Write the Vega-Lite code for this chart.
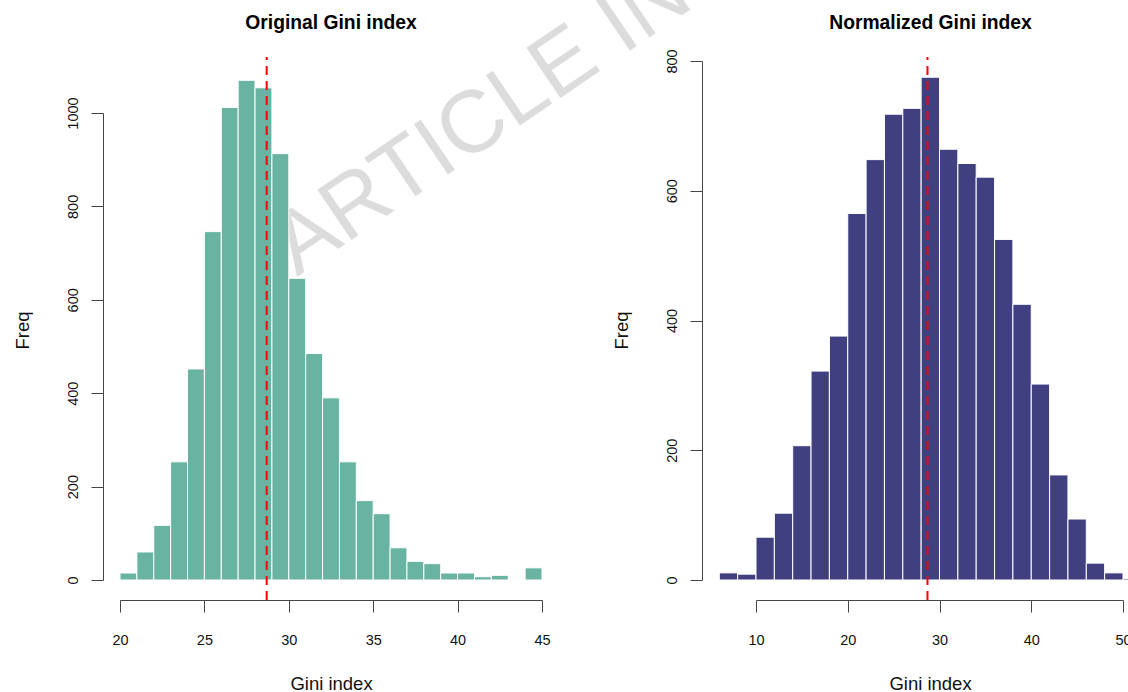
{
  "$schema": "https://vega.github.io/schema/vega-lite/v6.json",
  "autosize": {"type": "none"},
  "padding": {"left": 120, "top": 61, "right": 1008, "bottom": 631},
  "background": "white",
  "datasets": {
    "original": [
      {"start": 20, "end": 21, "count": 15},
      {"start": 21, "end": 22, "count": 60},
      {"start": 22, "end": 23, "count": 117},
      {"start": 23, "end": 24, "count": 253},
      {"start": 24, "end": 25, "count": 452},
      {"start": 25, "end": 26, "count": 746},
      {"start": 26, "end": 27, "count": 1012},
      {"start": 27, "end": 28, "count": 1070},
      {"start": 28, "end": 29, "count": 1054},
      {"start": 29, "end": 30, "count": 913},
      {"start": 30, "end": 31, "count": 646},
      {"start": 31, "end": 32, "count": 485},
      {"start": 32, "end": 33, "count": 390},
      {"start": 33, "end": 34, "count": 253},
      {"start": 34, "end": 35, "count": 170},
      {"start": 35, "end": 36, "count": 142},
      {"start": 36, "end": 37, "count": 69},
      {"start": 37, "end": 38, "count": 40},
      {"start": 38, "end": 39, "count": 35},
      {"start": 39, "end": 40, "count": 15},
      {"start": 40, "end": 41, "count": 15},
      {"start": 41, "end": 42, "count": 7},
      {"start": 42, "end": 43, "count": 10},
      {"start": 43, "end": 44, "count": 0},
      {"start": 44, "end": 45, "count": 26}
    ],
    "normalized": [
      {"start": 6, "end": 8, "count": 11},
      {"start": 8, "end": 10, "count": 9},
      {"start": 10, "end": 12, "count": 66},
      {"start": 12, "end": 14, "count": 103},
      {"start": 14, "end": 16, "count": 207},
      {"start": 16, "end": 18, "count": 322},
      {"start": 18, "end": 20, "count": 376},
      {"start": 20, "end": 22, "count": 565},
      {"start": 22, "end": 24, "count": 648},
      {"start": 24, "end": 26, "count": 718},
      {"start": 26, "end": 28, "count": 727},
      {"start": 28, "end": 30, "count": 775},
      {"start": 30, "end": 32, "count": 664},
      {"start": 32, "end": 34, "count": 642},
      {"start": 34, "end": 36, "count": 621},
      {"start": 36, "end": 38, "count": 525},
      {"start": 38, "end": 40, "count": 425},
      {"start": 40, "end": 42, "count": 302},
      {"start": 42, "end": 44, "count": 162},
      {"start": 44, "end": 46, "count": 94},
      {"start": 46, "end": 48, "count": 26},
      {"start": 48, "end": 50, "count": 11},
      {"start": 50, "end": 52, "count": 2}
    ],
    "mean": [{"gini_mean": 28.69}],
    "watermark": [{"label": "ARTICLE IN"}]
  },
  "spacing": 214,
  "bounds": "flush",
  "hconcat": [
    {
      "width": 422,
      "height": 519,
      "title": {"text": "Original Gini index", "offset": -85.2},
      "layer": [
        {
          "data": {"name": "watermark"},
          "mark": {"type": "text", "angle": 325.8, "align": "left", "baseline": "alphabetic", "fontSize": 88, "font": "Liberation Sans", "color": "#dcdcdc"},
          "encoding": {
            "text": {"field": "label"},
            "x": {"datum": 30.49, "type": "quantitative", "title": "Gini index"},
            "y": {"datum": 649, "type": "quantitative", "title": "Freq"}
          }
        },
        {
          "data": {"name": "original"},
          "mark": {"type": "bar", "fill": "#69b3a2", "stroke": "white", "strokeWidth": 1},
          "encoding": {
            "x": {"field": "start", "type": "quantitative", "title": "Gini index",
              "scale": {"domain": [20, 45], "nice": false, "zero": false},
              "axis": {"values": [20, 25, 30, 35, 40, 45], "offset": 20, "labelPadding": 21, "titlePadding": 28}},
            "x2": {"field": "end"},
            "y": {"field": "count", "type": "quantitative", "title": "Freq",
              "scale": {"domain": [0, 1000], "range": [519, 52], "nice": false, "zero": true},
              "axis": {"values": [0, 200, 400, 600, 800, 1000], "format": "d", "offset": 17, "labelAngle": -90, "labelAlign": "center", "labelBaseline": "bottom", "labelPadding": 11, "titleX": -75, "titleY": 269, "titleAngle": -90, "titleBaseline": "alphabetic", "titleAlign": "center"}},
            "y2": {"datum": 0}
          }
        },
        {
          "data": {"name": "mean"},
          "mark": {"type": "rule", "color": "#ff0000", "strokeWidth": 2, "strokeDash": [9, 6]},
          "encoding": {
            "x": {"field": "gini_mean", "type": "quantitative", "title": "Gini index"},
            "y": {"datum": -43, "type": "quantitative", "title": "Freq"},
            "y2": {"datum": 1120}
          }
        }
      ]
    },
    {
      "width": 367,
      "height": 519,
      "title": {"text": "Normalized Gini index", "offset": 16, "dx": -9},
      "layer": [
        {
          "data": {"name": "normalized"},
          "mark": {"type": "bar", "fill": "#404080", "stroke": "white", "strokeWidth": 1},
          "encoding": {
            "x": {"field": "start", "type": "quantitative", "title": "Gini index",
              "scale": {"domain": [10, 50], "nice": false, "zero": false},
              "axis": {"values": [10, 20, 30, 40, 50], "offset": 20, "labelPadding": 21, "titlePadding": 28, "titleX": 174, "titleAlign": "center"}},
            "x2": {"field": "end"},
            "y": {"field": "count", "type": "quantitative", "title": "Freq",
              "scale": {"domain": [0, 800], "nice": false, "zero": true},
              "axis": {"values": [0, 200, 400, 600, 800], "format": "d", "offset": 54, "labelAngle": -90, "labelAlign": "center", "labelBaseline": "bottom", "labelPadding": 11, "titleX": -75, "titleY": 269, "titleAngle": -90, "titleBaseline": "alphabetic", "titleAlign": "center"}},
            "y2": {"datum": 0}
          }
        },
        {
          "data": {"name": "mean"},
          "mark": {"type": "rule", "color": "#ff0000", "strokeWidth": 2, "strokeDash": [9, 6]},
          "encoding": {
            "x": {"field": "gini_mean", "type": "quantitative", "title": "Gini index"},
            "y": {"datum": -31, "type": "quantitative", "title": "Freq"},
            "y2": {"datum": 806}
          }
        }
      ]
    }
  ],
  "config": {
    "view": {"stroke": null},
    "font": "Liberation Sans",
    "axis": {"grid": false, "domainColor": "#444", "tickColor": "#444", "domainWidth": 1, "tickWidth": 1, "tickSize": 12, "labelFont": "Liberation Sans", "labelFontSize": 14.5, "labelColor": "#111", "titleFont": "Liberation Sans", "titleFontSize": 18.5, "titleFontWeight": "normal", "titleColor": "#111", "labelOverlap": false, "labelFlush": false},
    "title": {"fontSize": 19.3, "fontWeight": "bold", "font": "Liberation Sans", "anchor": "middle", "frame": "group", "baseline": "alphabetic", "color": "#000"}
  }
}
